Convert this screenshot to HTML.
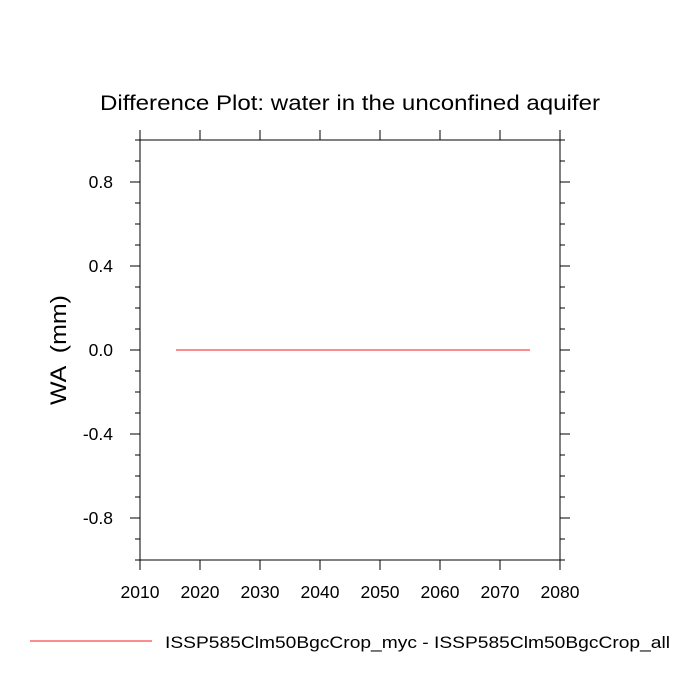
<!DOCTYPE html>
<html><head><meta charset="utf-8"><style>
body{margin:0;background:#fff;}
svg{display:block;font-family:"Liberation Sans",sans-serif;}
</style></head><body>
<svg id="c" width="700" height="700" viewBox="0 0 700 700">
<text x="100" y="110" font-size="21" textLength="500" lengthAdjust="spacingAndGlyphs">Difference Plot: water in the unconfined aquifer</text>
<text transform="translate(66,350) rotate(-90)" font-size="22" text-anchor="middle" style="white-space:pre" textLength="110" lengthAdjust="spacingAndGlyphs">WA  (mm)</text>
<rect x="140" y="140" width="420" height="420" fill="none" stroke="#000" stroke-width="1"/>
<g id="ax"></g>
<line x1="30" y1="641" x2="152" y2="641" stroke="#f66" stroke-width="1.5"/>
<text x="165" y="648" font-size="17" textLength="505" lengthAdjust="spacingAndGlyphs">ISSP585Clm50BgcCrop_myc - ISSP585Clm50BgcCrop_all</text>
</svg>
<script>
const years = [2016, 2075];
const diffValues = [0.0, 0.0];
const xTicks = [2010, 2020, 2030, 2040, 2050, 2060, 2070, 2080];
const yTicks = [-0.8, -0.4, 0.0, 0.4, 0.8];
const yTickLabels = ["-0.8", "-0.4", "0.0", "0.4", "0.8"];
const NS = "http://www.w3.org/2000/svg";
const X = v => 140 + (v - 2010) / 70 * 420;
const Y = v => 350 - v * 210;
const g = document.getElementById('ax');
function mk(t, a){const e=document.createElementNS(NS,t);for(const k in a)e.setAttribute(k,a[k]);g.appendChild(e);return e;}
xTicks.forEach(v=>{
  let e=mk('line',{x1:X(v),x2:X(v),y1:560,y2:570,stroke:'#000'});
  
  
  e=mk('line',{x1:X(v),x2:X(v),y1:130,y2:140,stroke:'#000'});
  
  
  e=mk('text',{x:X(v),y:598,'font-size':17.5,'text-anchor':'middle'});
  e.textContent=v;
  
  
});
for(let i=-10;i<=10;i++){
  const v=i/10, maj=(i%4===0&&Math.abs(i)<10)||i===0;
  const len=maj?10:5;
  let e=mk('line',{x1:140-len,x2:140,y1:Y(v),y2:Y(v),stroke:'#000'});
  
  
  e=mk('line',{x1:560,x2:560+len,y1:Y(v),y2:Y(v),stroke:'#000'});
  
  
}
yTicks.forEach((v,i)=>{
  const e=mk('text',{x:113,y:Y(v)+6,'font-size':17.5,'text-anchor':'end'});
  e.textContent=yTickLabels[i];
  
  
});
const p=mk('polyline',{points:years.map((y,i)=>X(y)+','+Y(diffValues[i])).join(' '),fill:'none',stroke:'#f66','stroke-width':1.5});


</script>
</body></html>
